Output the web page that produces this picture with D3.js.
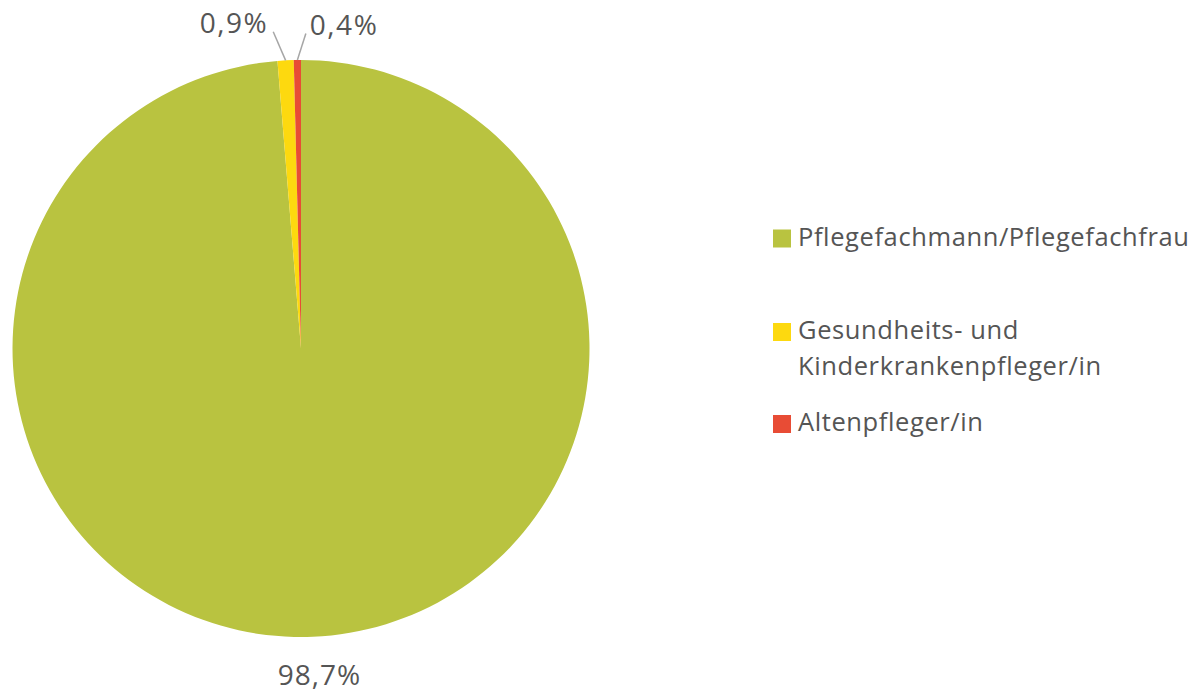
<!DOCTYPE html>
<html>
<head>
<meta charset="utf-8">
<script src="https://cdn.jsdelivr.net/npm/d3@7"></script>
<style>
  body { margin: 0; background: #fff; }
  svg { display: block; font-family: "Open Sans", Lato, sans-serif; }
</style>
</head>
<body>
<svg width="1199" height="692"></svg>
<script>
const categories = ["Pflegefachmann/Pflegefachfrau", "Gesundheits- und Kinderkrankenpfleger/in", "Altenpfleger/in"];
const legendLines = [["Pflegefachmann/Pflegefachfrau"], ["Gesundheits- und", "Kinderkrankenpfleger/in"], ["Altenpfleger/in"]];
const values = [98.7, 0.9, 0.4];
const valueLabels = ["98,7%", "0,9%", "0,4%"];
const colors = ["#b9c340", "#fdd90f", "#e84c35"];

const svg = d3.select("svg");
const cx = 301, cy = 348.5, radius = 288.5;
const textColor = "#555555";

const pie = d3.pie().sort(null).value(d => d);
const pieData = pie(values);
const arc = d3.arc().innerRadius(0).outerRadius(radius);

const g = svg.append("g").attr("transform", `translate(${cx},${cy})`);

g.selectAll("path")
  .data(pieData)
  .enter()
  .append("path")
  .attr("d", arc)
  .attr("fill", (d, i) => colors[i]);

// 라벨 위치: 중간 각도 기준
function pointAt(angle, r) {
  return [Math.sin(angle) * r, -Math.cos(angle) * r];
}
const mid = d => (d.startAngle + d.endAngle) / 2;

// 큰 조각 라벨 (아래쪽)
const big = pieData[0];
const [bx, by] = pointAt(mid(big), 330);
g.append("text")
  .attr("x", bx + 5)
  .attr("y", by + 7)
  .attr("text-anchor", "middle")
  .style("font-size", "28px")
  .style("letter-spacing", "1px")
  .style("fill", textColor)
  .text(valueLabels[0]);

// 작은 조각 라벨 + 연결선
const smallOpt = [
  { shift: -0.034, r2: 318, anchor: "end", dx: -5 },
  { shift: 0.028, r2: 315, anchor: "start", dx: 4 }
];
pieData.slice(1).forEach((d, k) => {
  const o = smallOpt[k];
  const a = mid(d);
  const p1 = pointAt(a, radius);
  const p2 = pointAt(a + o.shift, o.r2);
  g.append("line")
    .attr("x1", p1[0]).attr("y1", p1[1])
    .attr("x2", p2[0]).attr("y2", p2[1])
    .attr("stroke", "#a6a6a6")
    .attr("stroke-width", 1.5);
  g.append("text")
    .attr("x", p2[0] + o.dx)
    .attr("y", p2[1] + 1)
    .attr("text-anchor", o.anchor)
    .style("font-size", "28px")
    .style("letter-spacing", "1.5px")
    .style("fill", textColor)
    .text(valueLabels[k + 1]);
});

// 범례
const legendY = [238.5, 332, 424];
const legend = svg.append("g").attr("transform", "translate(773,0)");
categories.forEach((c, i) => {
  const item = legend.append("g").attr("transform", `translate(0,${legendY[i]})`);
  item.append("rect")
    .attr("x", 0).attr("y", -9)
    .attr("width", 18).attr("height", 18)
    .attr("fill", colors[i]);
  legendLines[i].forEach((line, j) => {
    item.append("text")
      .attr("x", 25)
      .attr("y", 7 + j * 36)
      .style("font-size", "25.5px")
      .style("letter-spacing", "0.6px")
      .style("fill", textColor)
      .text(line);
  });
});
</script>
</body>
</html>
